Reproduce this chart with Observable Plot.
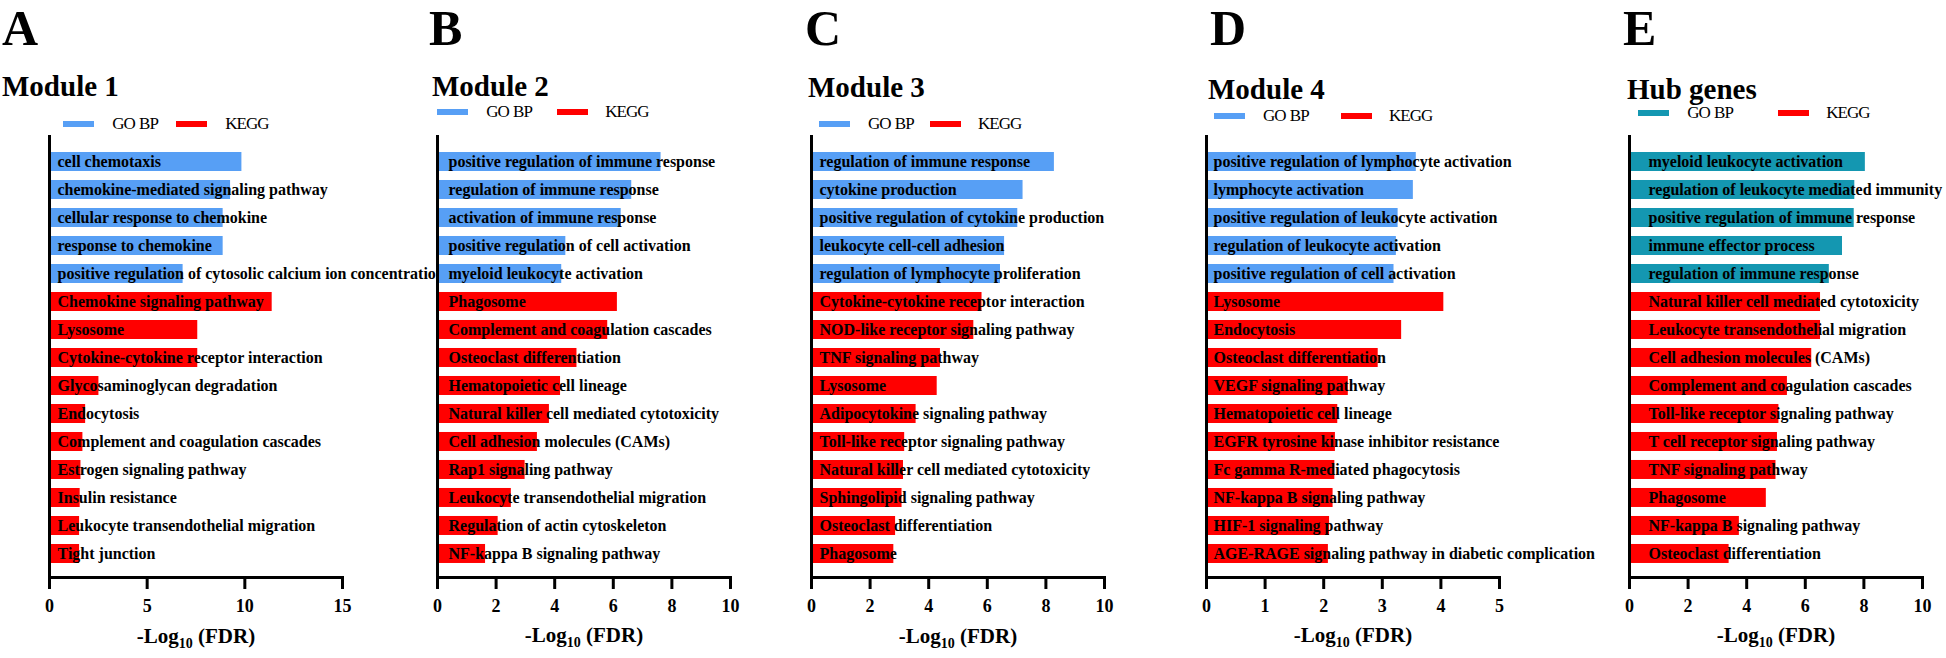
<!DOCTYPE html>
<html><head><meta charset="utf-8">
<script src="https://cdn.jsdelivr.net/npm/d3@7"></script>
<script src="https://cdn.jsdelivr.net/npm/@observablehq/plot@0.6"></script>
<style>
body{margin:0;background:#fff;}
#root{position:relative;width:1946px;height:658px;overflow:hidden;font-family:"Liberation Serif","Times New Roman","DejaVu Serif",Times,serif;color:#000;}
.abs{position:absolute;white-space:nowrap;}
</style></head><body><div id="root"></div>
<script>
// ---------- data ----------
const types = ["GO BP","GO BP","GO BP","GO BP","GO BP","KEGG","KEGG","KEGG","KEGG","KEGG","KEGG","KEGG","KEGG","KEGG","KEGG"];
const legendLabels = ["GO BP", "KEGG"];

const termsA = ["cell chemotaxis","chemokine-mediated signaling pathway","cellular response to chemokine","response to chemokine","positive regulation of cytosolic calcium ion concentration","Chemokine signaling pathway","Lysosome","Cytokine-cytokine receptor interaction","Glycosaminoglycan degradation","Endocytosis","Complement and coagulation cascades","Estrogen signaling pathway","Insulin resistance","Leukocyte transendothelial migration","Tight junction"];
const valuesA = [9.85,9.27,8.89,8.89,6.84,11.4,7.59,7.59,2.53,1.85,1.71,1.61,1.57,1.54,1.54];

const termsB = ["positive regulation of immune response","regulation of immune response","activation of immune response","positive regulation of cell activation","myeloid leukocyte activation","Phagosome","Complement and coagulation cascades","Osteoclast differentiation","Hematopoietic cell lineage","Natural killer cell mediated cytotoxicity","Cell adhesion molecules (CAMs)","Rap1 signaling pathway","Leukocyte transendothelial migration","Regulation of actin cytoskeleton","NF-kappa B signaling pathway"];
const valuesB = [7.63,6.63,6.27,4.38,4.24,6.14,5.81,4.76,4.20,3.82,3.41,2.99,2.52,2.07,1.64];

const termsC = ["regulation of immune response","cytokine production","positive regulation of cytokine production","leukocyte cell-cell adhesion","regulation of lymphocyte proliferation","Cytokine-cytokine receptor interaction","NOD-like receptor signaling pathway","TNF signaling pathway","Lysosome","Adipocytokine signaling pathway","Toll-like receptor signaling pathway","Natural killer cell mediated cytotoxicity","Sphingolipid signaling pathway","Osteoclast differentiation","Phagosome"];
const valuesC = [8.29,7.22,7.04,6.59,6.45,5.82,5.54,4.40,4.29,3.57,3.18,3.14,3.09,2.87,2.81];

const termsD = ["positive regulation of lymphocyte activation","lymphocyte activation","positive regulation of leukocyte activation","regulation of leukocyte activation","positive regulation of cell activation","Lysosome","Endocytosis","Osteoclast differentiation","VEGF signaling pathway","Hematopoietic cell lineage","EGFR tyrosine kinase inhibitor resistance","Fc gamma R-mediated phagocytosis","NF-kappa B signaling pathway","HIF-1 signaling pathway","AGE-RAGE signaling pathway in diabetic complication"];
const valuesD = [3.58,3.53,3.27,3.24,3.20,4.05,3.33,2.93,2.42,2.24,2.20,2.19,2.16,2.10,2.08];

const termsE = ["myeloid leukocyte activation","regulation of leukocyte mediated immunity","positive regulation of immune response","immune effector process","regulation of immune response","Natural killer cell mediated cytotoxicity","Leukocyte transendothelial migration","Cell adhesion molecules (CAMs)","Complement and coagulation cascades","Toll-like receptor signaling pathway","T cell receptor signaling pathway","TNF signaling pathway","Phagosome","NF-kappa B signaling pathway","Osteoclast differentiation"];
const valuesE = [8.05,7.69,7.67,7.27,6.82,6.52,6.52,6.22,5.39,5.10,5.05,5.00,4.67,3.75,3.40];

const panelLetters = ["A","B","C","D","E"];
const panelTitles = ["Module 1","Module 2","Module 3","Module 4","Hub genes"];
const ticksA = [0,5,10,15];
const ticksB = [0,2,4,6,8,10];
const ticksC = [0,2,4,6,8,10];
const ticksD = [0,1,2,3,4,5];
const ticksE = [0,2,4,6,8,10];
const axisTitle = "-Log10 (FDR)";

// ---------- layout / style ----------
const FONT = '"Liberation Serif","Times New Roman","DejaVu Serif",Times,serif';
const RED = "#ff0000";
const layout = [
  {terms: termsA, values: valuesA, ticks: ticksA, max: 15, axisX: 49.3, right: 437.3, go: "#579ff5", dx: 8,
   letter: [2, 44.6], title: [2, 96], legendY: 124, legendOff: [14, 63, 127, 176]},
  {terms: termsB, values: valuesB, ticks: ticksB, max: 10, axisX: 437.3, right: 811, go: "#579ff5", dx: 11,
   letter: [429, 44.6], title: [432, 96], legendY: 112, legendOff: [0, 49, 120, 168]},
  {terms: termsC, values: valuesC, ticks: ticksC, max: 10, axisX: 811, right: 1206, go: "#579ff5", dx: 8,
   letter: [805, 44.6], title: [808, 97], legendY: 124, legendOff: [8, 57, 119, 167]},
  {terms: termsD, values: valuesD, ticks: ticksD, max: 5, axisX: 1206, right: 1629.3, go: "#579ff5", dx: 7,
   letter: [1210, 44.6], title: [1208, 99], legendY: 116, legendOff: [8, 57, 135, 183]},
  {terms: termsE, values: valuesE, ticks: ticksE, max: 10, axisX: 1629.3, right: 1946, go: "#1497b1", dx: 19,
   letter: [1623, 44.6], title: [1627, 99], legendY: 113, legendOff: [9, 58, 149, 197]}
];

const root = document.getElementById("root");
function addText(txt, x, baseline, fs, weight, extra) {
  const d = document.createElement("div");
  d.className = "abs";
  d.textContent = txt;
  const lh = 0.8 * fs;
  d.style.left = x + "px";
  d.style.top = (baseline - ((lh - 1.107 * fs) / 2 + 0.891 * fs)) + "px";
  d.style.fontSize = fs + "px";
  d.style.lineHeight = lh + "px";
  d.style.fontWeight = weight;
  if (extra) Object.assign(d.style, extra);
  root.appendChild(d);
}
function addSwatch(x, cy, color) {
  const d = document.createElement("div");
  d.className = "abs";
  Object.assign(d.style, {left: x + "px", top: (cy - 3) + "px", width: "31px", height: "6px", background: color});
  root.appendChild(d);
}

const SVG_TOP = 130, SVG_H = 528, ML = 20, FW = 293;
const legendStyle = {letterSpacing: "-1px", wordSpacing: "1px"};

layout.forEach((p, k) => {
  addText(panelLetters[k], p.letter[0], p.letter[1], 50, "bold");
  addText(panelTitles[k], p.title[0], p.title[1], 29, "bold");
  const [o1, o2, o3, o4] = p.legendOff;
  addSwatch(p.axisX + o1, p.legendY, p.go);
  addText(legendLabels[0], p.axisX + o2, p.legendY + 6, 17, "normal", legendStyle);
  addSwatch(p.axisX + o3, p.legendY, RED);
  addText(legendLabels[1], p.axisX + o4, p.legendY + 6, 17, "normal", legendStyle);

  const data = p.terms.map((t, i) => ({term: t, value: p.values[i], type: types[i]}));
  const left = p.axisX - ML;
  const width = p.right - left;
  const svg = Plot.plot({
    width, height: SVG_H,
    marginLeft: ML, marginRight: width - ML - FW, marginTop: 5, marginBottom: 81,
    style: {fontFamily: FONT, background: "transparent", overflow: "hidden", color: "#000"},
    x: {domain: [0, p.max], axis: null},
    y: {domain: p.terms, range: [17.5, 438], paddingInner: 0.33, paddingOuter: 0, axis: null},
    color: {domain: legendLabels, range: [p.go, RED]},
    marks: [
      Plot.barX(data, {x: "value", y: "term", fill: "type"}),
      Plot.text(data, {x: 0, y: "term", text: "term", textAnchor: "start", dx: p.dx, fontWeight: "bold", fontSize: 16, fill: "#000", fontFamily: FONT}),
      Plot.ruleX([0], {strokeWidth: 3, stroke: "#000"}),
      Plot.frame({anchor: "bottom", strokeWidth: 3, stroke: "#000"}),
      Plot.axisX({ticks: p.ticks, tickSize: 12, tickPadding: 10, strokeWidth: 3, fontSize: 18, fontWeight: "bold", fontFamily: FONT, label: null, tickFormat: d => String(d)}),
      Plot.text([axisTitle], {frameAnchor: "bottom", dy: 65, fontSize: 21, fontWeight: "bold", fill: "#000", fontFamily: FONT})
    ]
  });
  const wrap = document.createElement("div");
  wrap.className = "abs";
  Object.assign(wrap.style, {left: left + "px", top: SVG_TOP + "px", width: width + "px", height: SVG_H + "px"});
  wrap.appendChild(svg);
  root.appendChild(wrap);
  // subscript in axis title
  svg.querySelectorAll("text").forEach(t => {
    if (t.textContent === axisTitle) {
      t.textContent = "";
      const ns = "http://www.w3.org/2000/svg";
      t.appendChild(document.createTextNode("-Log"));
      const s1 = document.createElementNS(ns, "tspan");
      s1.setAttribute("dy", "5"); s1.setAttribute("font-size", "14"); s1.textContent = "10";
      const s2 = document.createElementNS(ns, "tspan");
      s2.setAttribute("dy", "-5"); s2.textContent = " (FDR)";
      t.appendChild(s1); t.appendChild(s2);
    }
  });
});
</script></body></html>
